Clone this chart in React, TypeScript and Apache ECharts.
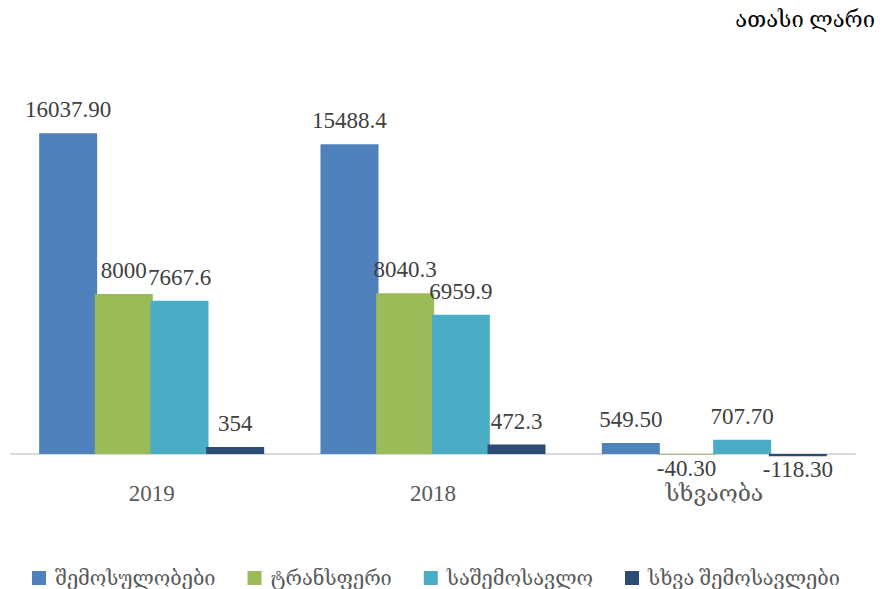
import React, { useEffect, useRef } from "react";
import * as echarts from "echarts";

const categories = ["2019", "2018", "სხვაობა"];
const seriesNames = ["შემოსულობები", "ტრანსფერი", "საშემოსავლო", "სხვა შემოსავლები"];
const revenues = [16037.9, 15488.4, 549.5];
const transfers = [8000, 8040.3, -40.3];
const incomeTax = [7667.6, 6959.9, 707.7];
const otherIncome = [354, 472.3, -118.3];
const labelTexts = [
  ["16037.90", "15488.4", "549.50"],
  ["8000", "8040.3", "-40.30"],
  ["7667.6", "6959.9", "707.70"],
  ["354", "472.3", "-118.30"],
];
const colors = ["#4f81bd", "#9bbb59", "#4bacc6", "#2c4d75"];
const unitTitle = "ათასი ლარი";

const FONT = "'Liberation Serif', 'DejaVu Serif', serif";

export default function App() {
  const ref = useRef<HTMLDivElement>(null);
  useEffect(() => {
    const chart = echarts.init(ref.current!, null, { renderer: "svg" });
    const all = [revenues, transfers, incomeTax, otherIncome];
    chart.setOption({
      animation: false,
      title: {
        text: unitTitle,
        right: 11,
        top: 3,
        textStyle: { fontFamily: FONT, fontSize: 22, fontWeight: "normal", color: "#000" },
      },
      legend: {
        top: 563,
        left: 27,
        icon: "rect",
        itemWidth: 14,
        itemHeight: 14,
        itemGap: 32,
        textStyle: { fontFamily: FONT, fontSize: 20, color: "#595959", padding: [0, 0, 0, 4] },
        data: seriesNames,
      },
      grid: { left: 11, right: 36, top: 94, height: 376 },
      xAxis: {
        type: "category",
        data: categories,
        axisTick: { show: false },
        axisLine: { lineStyle: { color: "#d9d9d9", width: 2 } },
        axisLabel: { fontFamily: FONT, fontSize: 23, color: "#595959", margin: 12 },
      },
      yAxis: {
        type: "value",
        min: -800,
        max: 18000,
        show: false,
        splitLine: { show: false },
      },
      series: all.map((vals, si) => ({
        name: seriesNames[si],
        type: "bar",
        barWidth: 58,
        barGap: "-4%",
        itemStyle: { color: colors[si] },
        data: vals.map((v, ci) => ({
          value: v,
          label: {
            show: true,
            position: v < 0 ? "bottom" : "top",
            distance: v < 0 ? 2 : 12,
            formatter: labelTexts[si][ci],
            fontFamily: FONT,
            fontSize: 23,
            color: "#404040",
          },
        })),
      })),
    });
    return () => chart.dispose();
  }, []);
  return (
    <div
      ref={ref}
      style={{ position: "absolute", left: 0, top: 0, width: 891, height: 589 }}
    />
  );
}
